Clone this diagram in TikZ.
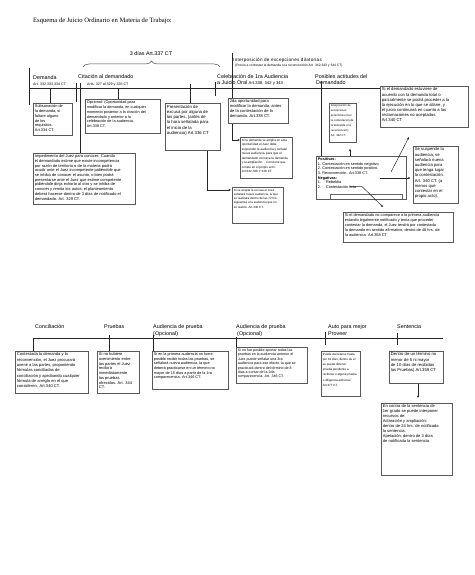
\documentclass[tikz,border=0pt]{standalone}
\usepackage{fontspec}
\setmainfont{Liberation Sans}
\newfontfamily\titlefont{Liberation Serif}
\usetikzlibrary{arrows.meta,decorations.pathreplacing}
% \mybox{name}{x1}{y1}{x2}{y2}{font size}{leading}{text}
\newcommand{\mybox}[8]{%
  \node[box, font=\fontsize{#6}{#7}\selectfont] (#1) at (#2,#3)
   {\parbox[c][\dimexpr #5pt-#3pt-3pt\relax][t]{\dimexpr #4pt-#2pt-3pt\relax}{\raggedright #8}};}
\begin{document}
\begin{tikzpicture}[x=1pt,y=-1pt,
  box/.style={draw=black!65, line width=0.8pt, fill=white, inner sep=1.5pt, anchor=north west},
  lbl/.style={anchor=base west, inner sep=0pt, font=\fontsize{5.4}{6.4}\selectfont},
  sml/.style={anchor=base west, inner sep=0pt, font=\fontsize{3.6}{4.3}\selectfont},
  ln/.style={line width=0.5pt, draw=black!85},
  arr/.style={ln, -{Stealth[length=2.6pt,width=2.2pt]}}
]
\useasboundingbox[fill=white] (0,0) rectangle (474,575);

% title
\node[anchor=base west, inner sep=0pt, font=\titlefont\fontsize{6.6}{7.5}\selectfont] (title) at (33,22.5)
  {Esquema de Juicio Ordinario en Materia de Trabajo:};

% ---------- upper section labels ----------
\node[lbl] (lDem) at (33,79.5) {Demanda};
\node[sml] (lDemA) at (33,85.8) {Art. 332,333,334 CT};
\node[lbl] (lCit) at (78,79) {Citación al demandado};
\node[sml] (lCitA) at (87,85.8) {Arts. 327 al 329 y 335 CT};
\node[lbl] (lCel) at (217,78.5) {Celebración de 1ra Audiencia};
\node[lbl] (lCel2) at (217,85) {a Juicio Oral {\fontsize{4.2}{5}\selectfont Art.338, 342 y 343}};
\node[lbl] (lPos) at (315,78.5) {Posibles actitudes del};
\node[lbl] (lPos2) at (316,85) {Demandado};
\node[anchor=base west, inner sep=0pt, font=\fontsize{4.6}{5.4}\selectfont\addfontfeature{LetterSpace=6}] (lInt) at (233,61.5)
  {Interposición de excepciones dilatorias};
\node[anchor=base west, inner sep=0pt, font=\fontsize{3.3}{4}\selectfont] (lInt2) at (235,66.6)
  {(Previo a contestar la demanda o la reconvención Art. 342,343 y 344 CT)};

% brace
\coordinate (brL) at (83,67);
\coordinate (brR) at (220,67);
\draw[line width=0.5pt, black!70, decorate, decoration={brace, amplitude=6pt}] (brL) -- (brR);
\node[font=\fontsize{5.4}{6.4}\selectfont, inner sep=0pt] (lBr) at (151,53.5) {3 días Art.337 CT};

% ---------- upper boxes ----------
\mybox{A}{33}{103}{72}{135}{3.9}{4.8}{Subsanación de\\la demanda, si\\faltare alguno\\de los\\requisitos.\\Art.334 CT.}
\mybox{B}{85}{99}{160}{133}{3.8}{4.8}{Opcional: (Oportunidad para\\modificar la demanda, en cualquier\\momento posterior a la citación del\\demandado y anterior a la\\celebración de la audiencia.\\Art.338 CT.}
\mybox{C}{33}{153}{135}{204}{4.0}{4.7}{Impedimento del Juez para conocer: Cuando\\el demandado estime que existe incompetencia\\por razón de territorio o de la materia podrá\\acudir ante el Juez incompetente pidiéndole que\\se inhiba de conocer el asunto, o bien podrá\\presentarse ante el Juez que estime competente\\pidiéndole dirija exhorto al otro y se inhiba de\\conocer y remita los autos; el planteamiento\\deberá hacerse dentro de 3 días de notificado el\\demandado. Art. 329 CT.}
\mybox{D}{165}{103}{220}{150}{4.3}{5.3}{Presentación de\\excusa por alguna de\\las partes, (antes de\\la hora señalada para\\el inicio de la\\audiencia) Art.336 CT}
\mybox{E}{228}{98}{288}{123}{4.1}{5}{2da oportunidad para\\modificar la demanda, antes\\de la contestación de la\\demanda. Art.338 CT.}
\mybox{F}{232}{187}{283}{223}{3.0}{4.3}{Si se acepta la excusa el Juez\\señalará nueva audiencia, la que\\se realizará dentro de las 72 hrs.\\siguientes a la audiencia que no\\se realizó. Art.336 CT.}
\mybox{G}{240}{137}{292}{178}{3.1}{4.5}{Si la demanda se amplía en esta\\oportunidad el Juez debe\\suspender la audiencia y señalar\\nueva audiencia, para que el\\demandado conozca la demanda\\y la ampliación. . Conviene que\\conste en el propio acto.\\Art.342,338 Y 336 CT.}
\mybox{H}{329}{103}{356}{142}{2.8}{5}{Interposición de\\excepciones\\perentorias (Con\\la contestación de\\la demanda o la\\reconvención)\\Art. 342 CT.}
\mybox{I}{316}{156}{406}{199}{3.8}{4.6}{\textbf{Positivas:}\\1. Contestación en sentido negativo\\2. Contestación en sentido positivo.\\3. Reconvención. Art.338 CT.\\\textbf{Negativas:}\\1.\hspace{5pt}Rebeldía\\2.\hspace{5pt}Contestación ficta}
\mybox{J}{380}{86}{468}{127}{4.2}{5.1}{Si el demandado estuviere de\\acuerdo con la demanda total o\\parcialmente se podrá proceder a la\\la ejecución en lo que se allane, y\\el juicio continuará en cuanto a las\\reclamaciones no aceptadas.\\Art.340 CT}
\mybox{K}{413}{146}{458}{203}{4.2}{5.2}{Se suspende la\\audiencia, se\\señalará nueva\\audiencia para\\que tenga lugar\\la contestación.\\Art. 340 CT. (a\\menos que\\contestar en el\\propio acto).}
\mybox{L}{343}{212}{453}{242}{3.9}{4.9}{Si el demandado no comparece a la primera audiencia\\estando legalmente notificado y tenía que proceder\\contestar la demanda, el Juez tendrá por contestada\\la demanda en sentido afirmativo, dentro de 48 hrs. de\\la audiencia. Art.358 CT}

% small inner frame at the foot of the Positivas box
\draw[black!60, line width=0.4pt] (330,199) -- (330,194.5) -- (402,194.5) -- (402,199);

% ---------- upper timeline and ticks ----------
\coordinate (t0) at (29,88);
\draw[ln] (t0) -- (t0 -| J.west);
\coordinate (kDt) at (29,68);
\coordinate (kDb) at (29,105);
\draw[ln] (kDt) -- (kDb);
\coordinate (kA) at (50,88);
\draw[ln] (kA) -- (kA |- A.north);
\coordinate (kC1) at (76,83);
\coordinate (kC1b) at (76,102);
\draw[ln] (kC1) -- (kC1b);
\coordinate (kC2) at (80,83);
\draw[ln] (kC2) -- (kC2 |- C.north);
\coordinate (kB) at (118,88);
\draw[ln] (kB) -- (kB |- B.north);
\coordinate (kD) at (190,84);
\draw[ln] (kD) -- (kD |- D.north);
\coordinate (kCel) at (215,82);
\coordinate (kCelb) at (215,96);
\draw[ln] (kCel) -- (kCelb);
\coordinate (kE) at (232,53);
\draw[ln] (kE) -- (kE |- E.north);
\coordinate (kP) at (321,81);
\draw[ln] (kP) -- (kP |- I.north);

% ---------- upper arrows ----------
\coordinate (dx) at (207,150);
\coordinate (Fin) at (231,190);
\draw[arr] (dx |- D.south) |- (Fin);
\coordinate (Gin) at (240,140);
\draw[arr] (kE |- E.south) |- (Gin);
\coordinate (hx) at (350,150);
\draw[arr, shorten >=6pt] (hx |- I.north) -- (hx |- H.south);
\coordinate (pJ) at (391,172);
\coordinate (Jtip) at (409,137);
\draw[arr] (pJ) -- (Jtip);
\coordinate (rk) at (380,178);
\draw[arr, shorten >=2.5pt] (rk) -- (rk -| K.west);
\coordinate (rb0) at (350,186.5);
\coordinate (rb1) at (362,186.5);
\coordinate (Ltip) at (383,207);
\draw[arr] (rb0) -- (rb1) -- (Ltip);

% ---------- lower section ----------
\node[lbl] (lCon) at (35,328.5) {Conciliación};
\node[lbl] (lPru) at (104,328.5) {Pruebas};
\node[lbl] (lAud1) at (153,328.5) {Audiencia de prueba};
\node[lbl] (lAud1b) at (153,335) {(Opcional)};
\node[lbl] (lAud2) at (236,328.5) {Audiencia de prueba};
\node[lbl] (lAud2b) at (237,335) {(Opcional)};
\node[lbl] (lAuto) at (328,328) {Auto para mejor};
\node[lbl] (lAutob) at (328,335) {Proveer};
\node[lbl] (lSen) at (397,328.5) {Sentencia};

\mybox{BA}{15}{351}{88}{393}{4.1}{5.3}{Contestada la demanda y la\\reconvención, el Juez procurará\\avenir a las partes, proponiendo\\fórmulas conciliadas de\\conciliación y aprobando cualquier\\fórmula de arreglo en el que\\consideren. Art.340 CT.}
\mybox{BB}{97}{351}{139}{393}{4.0}{4.7}{Si no hubiere\\avenimiento entre\\las partes el Juez\\recibirá\\inmediatamente\\las pruebas\\ofrecidas. Art. 344\\CT.}
\mybox{BC}{152}{351}{228}{389}{3.8}{4.6}{Si en la primera audiencia no fuere\\posible recibir todas las pruebas, se\\señalará nueva audiencia, la que\\deberá practicarse en un término no\\mayor de 15 días a partir de la 1ra\\comparecencia. Art.346 CT.}
\mybox{BD}{236}{347}{307}{383}{3.6}{4.4}{Si no fue posible aportar todas las\\pruebas en la audiencia anterior el\\Juez puede señalar una 3ra\\audiencia para ese efecto, la que se\\practicará dentro del término de 8\\días a contar de la 2da\\comparecencia. Art. 346 CT.}
\mybox{BE}{321}{351}{360}{396}{3.0}{5.2}{Puede decretarse hasta\\por 10 días, dentro de él\\se puede obtener\\prueba pendiente a\\recibirse o alguna prueba\\o diligencia adicional\\Art.377 CT.}
\mybox{BF}{389}{351}{443}{383}{4.2}{5.3}{Dentro de un término no\\menor de 5 ni mayor\\de 10 días de recibidas\\las Pruebas) Art.359 CT}
\mybox{BG}{381}{403}{452}{475}{4.1}{5}{En contra de la sentencia de\\1er grado se puede interponer\\recursos de:\\* Aclaración y ampliación:\\dentro de 24 hrs. de notificada\\la sentencia.\\* Apelación, dentro de 3 días\\de notificada la sentencia.}

\coordinate (b0) at (33,338);
\coordinate (b1) at (443,338);
\draw[ln] (b0) -- (b1);
\draw[ln] (b0) -- (b0 |- BA.north);
\coordinate (kPr) at (109,335);
\draw[ln] (kPr) -- (kPr |- BB.north);
\coordinate (kA1) at (153,335);
\draw[ln] (kA1) -- (kA1 |- BC.north);
\coordinate (kA2) at (236,337);
\draw[ln] (kA2) -- (kA2 |- BD.north);
\coordinate (kAu) at (325,332);
\coordinate (kAub) at (325,345);
\draw[ln] (kAu) -- (kAub);
\coordinate (kSe) at (397,333);
\coordinate (kSeb) at (397,345);
\draw[ln] (kSe) -- (kSeb);
\coordinate (sx) at (418,390);
\draw[arr, shorten >=5pt] (sx |- BF.south) -- (sx |- BG.north);
\end{tikzpicture}
\end{document}
